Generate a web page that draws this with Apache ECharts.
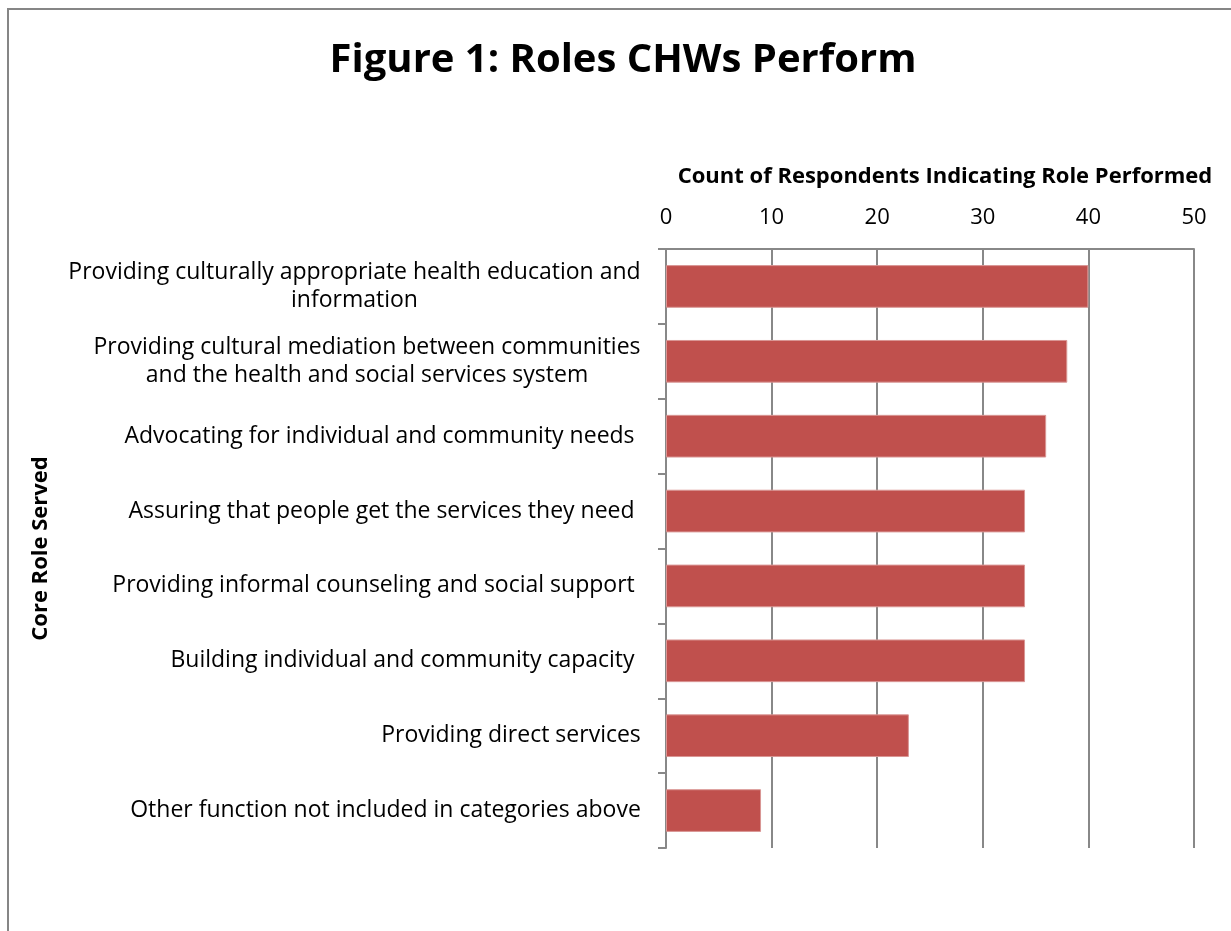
<!DOCTYPE html>
<html>
<head>
<meta charset="utf-8">
<script src="https://cdn.jsdelivr.net/npm/echarts@6/dist/echarts.min.js"></script>
<style>
html,body{margin:0;padding:0;background:#fff;}
#chart{width:1231px;height:931px;}
</style>
</head>
<body>
<div id="chart"></div>
<script>
const categories = [
  "Providing culturally appropriate health education and\ninformation",
  "Providing cultural mediation between communities\nand the health and social services system",
  "Advocating for individual and community needs ",
  "Assuring that people get the services they need ",
  "Providing informal counseling and social support ",
  "Building individual and community capacity ",
  "Providing direct services",
  "Other function not included in categories above"
];
const counts = [40, 38, 36, 34, 34, 34, 23, 9];
const xTicks = [0, 10, 20, 30, 40, 50];

const FONT = "Open Sans";
const LABEL_SIZE = 23;

// per-label rich styles so wrapped lines are centred within a right-aligned block
const cv = document.createElement('canvas').getContext('2d');
cv.font = LABEL_SIZE + "px '" + FONT + "'";
const rich = {};
categories.forEach((c, i) => {
  const lines = c.split('\n');
  const w = Math.max(...lines.map(l => cv.measureText(l).width));
  rich['r' + i] = {width: Math.ceil(w), align: 'center', fontFamily: FONT, fontSize: LABEL_SIZE, color: '#000', lineHeight: 28};
});

const chart = echarts.init(document.getElementById('chart'));
chart.setOption({
  backgroundColor: '#fff',
  animation: false,
  title: {
    text: 'Figure 1: Roles CHWs Perform',
    left: 618, top: 36, textAlign: 'center',
    textStyle: {fontFamily: FONT, fontSize: 40, fontWeight: 'bold', color: '#000'}
  },
  graphic: [{
    type: 'rect', silent: true,
    shape: {x: 8, y: 9, width: 1300, height: 1000},
    style: {fill: 'none', stroke: '#868686', lineWidth: 2}
  }],
  grid: {left: 666, right: 37, top: 249, bottom: 83},
  xAxis: {
    type: 'value', position: 'top', min: 0, max: 50, interval: 10,
    name: 'Count of Respondents Indicating Role Performed',
    nameLocation: 'middle', nameGap: 61,
    nameTextStyle: {fontFamily: FONT, fontSize: 22, fontWeight: 'bold', color: '#000', padding: [0, 0, 0, 30]},
    axisLine: {show: true, lineStyle: {color: '#888', width: 2}},
    axisTick: {show: false},
    axisLabel: {fontFamily: FONT, fontSize: 22, color: '#000', margin: 20,
      formatter: v => xTicks.includes(v) ? String(v) : ''},
    splitLine: {show: true, lineStyle: {color: '#888', width: 2}}
  },
  yAxis: {
    type: 'category', inverse: true, data: categories,
    name: 'Core Role Served', nameLocation: 'middle', nameGap: 614,
    nameTextStyle: {fontFamily: FONT, fontSize: 22, fontWeight: 'bold', color: '#000'},
    axisLine: {show: true, lineStyle: {color: '#888', width: 2}},
    axisTick: {show: true, length: 8, lineStyle: {color: '#888', width: 2}},
    axisLabel: {
      margin: 25, fontFamily: FONT, fontSize: LABEL_SIZE, color: '#000', lineHeight: 28,
      formatter: (v, i) => v.split('\n').map(l => '{r' + i + '|' + l + '}').join('\n'),
      rich: rich
    }
  },
  series: [{
    type: 'bar', data: counts, barCategoryGap: '43%',
    itemStyle: {color: '#C0504D', borderColor: '#D99694', borderWidth: 1}
  }]
});
</script>
</body>
</html>
